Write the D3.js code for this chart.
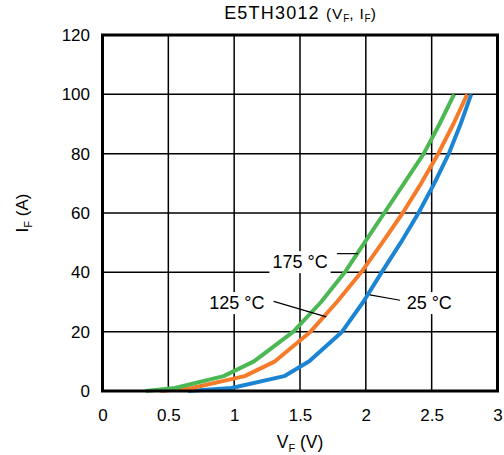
<!DOCTYPE html>
<html>
<head>
<meta charset="utf-8">
<script src="https://cdn.jsdelivr.net/npm/d3@7"></script>
<style>
  html, body { margin: 0; padding: 0; background: #fff; }
  svg { display: block; font-family: "Liberation Sans", Arial, Helvetica, sans-serif; }
</style>
</head>
<body>
<svg id="chart" width="504" height="455"></svg>
<script>
// Forward current I_F (A) at which the forward voltage was sampled
const currents = [0, 1, 5, 10, 20, 30, 40, 50, 60, 70, 80, 90, 100];
// Forward voltage V_F (V) for each junction temperature
const vf25  = [0.65, 0.98, 1.38, 1.57, 1.82, 1.98, 2.12, 2.265, 2.40, 2.52, 2.63, 2.72, 2.80];
const vf125 = [0.44, 0.68, 1.08, 1.31, 1.58, 1.78, 1.965, 2.125, 2.28, 2.42, 2.55, 2.665, 2.77];
const vf175 = [0.33, 0.55, 0.92, 1.15, 1.45, 1.66, 1.84, 1.99, 2.14, 2.29, 2.44, 2.56, 2.67];
const seriesNames = ["25 °C", "125 °C", "175 °C"];
const seriesColors = ["#1b84d3", "#f57b2a", "#4bb853"];
const xTicks = [0, 0.5, 1, 1.5, 2, 2.5, 3];
const xTickLabels = ["0", "0.5", "1", "1.5", "2", "2.5", "3"];
const yTicks = [0, 20, 40, 60, 80, 100, 120];

const svg = d3.select("#chart");
const margin = { left: 102.5, right: 6.5, top: 35, bottom: 64 };
const W = 504, H = 455;
const x = d3.scaleLinear().domain([0, 3]).range([margin.left, W - margin.right]);
const y = d3.scaleLinear().domain([0, 120]).range([H - margin.bottom, margin.top]);

// grid
const grid = svg.append("g").attr("stroke", "#000").attr("stroke-width", 1.5);
grid.selectAll("line.v").data(xTicks.slice(1, -1)).join("line")
  .attr("x1", d => x(d)).attr("x2", d => x(d))
  .attr("y1", y(0)).attr("y2", y(120));
grid.selectAll("line.h").data(yTicks.slice(1, -1)).join("line")
  .attr("x1", x(0)).attr("x2", x(3))
  .attr("y1", d => y(d)).attr("y2", d => y(d));

// curve labels on white boxes, with leader lines
function label(text, tx, ty, anchor, lx1, ly1, lx2, ly2) {
  const g = svg.append("g");
  const t = g.append("text").attr("x", tx).attr("y", ty)
    .attr("text-anchor", anchor).attr("font-size", 18).attr("fill", "#000").text(text);
  const bb = t.node().getBBox();
  g.insert("rect", "text").attr("x", bb.x - 3).attr("y", bb.y - 1)
    .attr("width", bb.width + 6).attr("height", bb.height + 2).attr("fill", "#fff");
  svg.append("line").attr("x1", lx1).attr("y1", ly1).attr("x2", lx2).attr("y2", ly2)
    .attr("stroke", "#000").attr("stroke-width", 1.2);
}

// curves
const line = d3.line().x(d => x(d[0])).y(d => y(d[1]));
[vf25, vf125, vf175].forEach((vs, i) => {
  svg.append("path")
    .datum(vs.map((v, k) => [v, currents[k]]))
    .attr("d", line)
    .attr("fill", "none")
    .attr("stroke", seriesColors[i])
    .attr("stroke-width", 4)
    .attr("stroke-linejoin", "round");
});

label(seriesNames[2], x(1.71), y(43.6) + 6.5, "end", x(1.78), y(46.3), x(1.94), y(46.3));
label(seriesNames[1], x(1.23), y(29.8) + 6.5, "end", x(1.30), y(30.2), x(1.70), y(25));
label(seriesNames[0], x(2.31), y(29.8) + 6.5, "start", x(2.03), y(32.4), x(2.26), y(30.6));

// frame
svg.append("rect").attr("x", x(0)).attr("y", y(120))
  .attr("width", x(3) - x(0)).attr("height", y(0) - y(120))
  .attr("fill", "none").attr("stroke", "#000").attr("stroke-width", 3);

// axes (labels only)
const xAxis = svg.append("g").attr("transform", `translate(0,${y(0)})`)
  .call(d3.axisBottom(x).tickValues(xTicks).tickFormat((d, i) => xTickLabels[i]).tickSize(0).tickPadding(18));
const yAxis = svg.append("g").attr("transform", `translate(${x(0)},0)`)
  .call(d3.axisLeft(y).tickValues(yTicks).tickSize(0).tickPadding(12.5));
[xAxis, yAxis].forEach(a => {
  a.select(".domain").remove();
  a.selectAll("text").attr("font-size", 17).attr("fill", "#000")
    .attr("font-family", "'Liberation Sans', Arial, Helvetica, sans-serif");
});

// title
const title = svg.append("text").attr("x", x(1.5)).attr("y", 18.5)
  .attr("text-anchor", "middle").attr("fill", "#000");
title.append("tspan").attr("font-size", 18).attr("letter-spacing", 1.2).text("E5TH3012 ");
title.append("tspan").attr("font-size", 15.5).attr("letter-spacing", 0.8).text("(V");
title.append("tspan").attr("font-size", 10).attr("dy", 3).text("F");
title.append("tspan").attr("font-size", 15.5).attr("letter-spacing", 0.8).attr("dy", -3).text(", I");
title.append("tspan").attr("font-size", 10).attr("dy", 3).text("F");
title.append("tspan").attr("font-size", 15.5).attr("dy", -3).text(")");

// x axis title
const xt = svg.append("text").attr("x", x(1.5)).attr("y", 448)
  .attr("text-anchor", "middle").attr("fill", "#000").attr("font-size", 17.5);
xt.append("tspan").text("V");
xt.append("tspan").attr("font-size", 11).attr("dy", 4).text("F");
xt.append("tspan").attr("dy", -4).text(" (V)");

// y axis title
const yt = svg.append("text")
  .attr("transform", `translate(28,${(y(0) + y(120)) / 2}) rotate(-90)`)
  .attr("text-anchor", "middle").attr("fill", "#000").attr("font-size", 17);
yt.append("tspan").text("I");
yt.append("tspan").attr("font-size", 11).attr("dy", 4).text("F");
yt.append("tspan").attr("dy", -4).text(" (A)");
</script>
</body>
</html>
